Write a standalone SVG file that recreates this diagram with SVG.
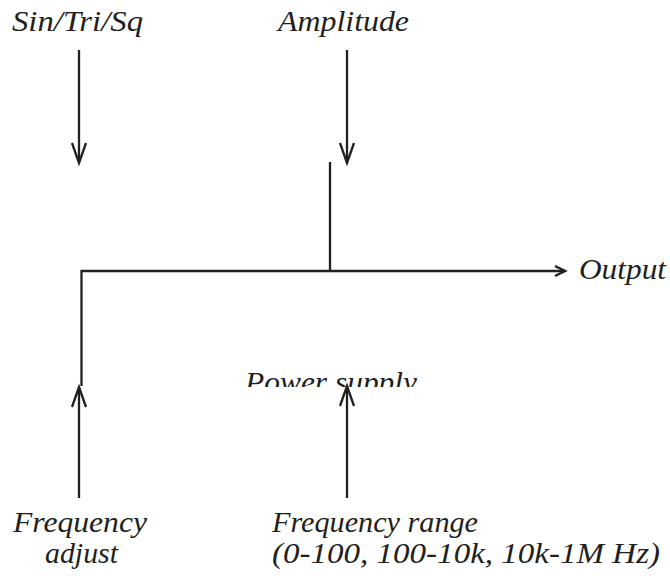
<svg xmlns="http://www.w3.org/2000/svg" width="670" height="581" viewBox="0 0 670 581">
  <style>
    .lbl { font-family: "Liberation Serif", "Times New Roman", serif; font-style: italic; font-weight: normal; font-size: 30px; fill: #231f20; }
    .wire { fill: none; stroke: #231f20; stroke-width: 2.3; }
  </style>
  <defs>
    <marker id="vee" markerUnits="userSpaceOnUse" markerWidth="24" markerHeight="20" refX="21" refY="8" orient="auto" overflow="visible">
      <path d="M1,1 L21,8 L1,15" fill="none" stroke="#231f20" stroke-width="2.3"/>
    </marker>
    <marker id="veeSmall" markerUnits="userSpaceOnUse" markerWidth="14" markerHeight="14" refX="11" refY="6" orient="auto" overflow="visible">
      <path d="M1,1 L11,6 L1,11" fill="none" stroke="#231f20" stroke-width="2.5"/>
    </marker>
    <clipPath id="psClip">
      <rect x="200" y="360" width="260" height="27"/>
    </clipPath>
  </defs>
  <rect width="670" height="581" fill="#ffffff"/>

  <g id="connectors">
    <line class="wire" x1="79" y1="50" x2="79" y2="163" marker-end="url(#vee)"/>
    <line class="wire" x1="347" y1="50" x2="347" y2="163" marker-end="url(#vee)"/>
    <line class="wire" x1="330" y1="162" x2="330" y2="271"/>
    <polyline class="wire" points="81.5,386 81.5,271 565,271" marker-end="url(#veeSmall)"/>
    <line class="wire" x1="79" y1="498" x2="79" y2="387" marker-end="url(#vee)"/>
    <line class="wire" x1="347" y1="498" x2="347" y2="386" marker-end="url(#vee)"/>
  </g>

  <g id="node-waveform">
    <text class="lbl" x="12" y="31" textLength="131" lengthAdjust="spacingAndGlyphs">Sin/Tri/Sq</text>
  </g>
  <g id="node-amplitude">
    <text class="lbl" x="278" y="31" textLength="131" lengthAdjust="spacingAndGlyphs">Amplitude</text>
  </g>
  <g id="node-output">
    <text class="lbl" x="579" y="279" textLength="87" lengthAdjust="spacingAndGlyphs">Output</text>
  </g>
  <g id="node-power-supply" clip-path="url(#psClip)">
    <text class="lbl" x="245" y="392" textLength="172" lengthAdjust="spacingAndGlyphs">Power supply</text>
  </g>
  <g id="node-frequency-adjust">
    <text class="lbl" x="13" y="532" textLength="134" lengthAdjust="spacingAndGlyphs">Frequency</text>
    <text class="lbl" x="45" y="563" textLength="73" lengthAdjust="spacingAndGlyphs">adjust</text>
  </g>
  <g id="node-frequency-range">
    <text class="lbl" x="272" y="532" textLength="206" lengthAdjust="spacingAndGlyphs">Frequency range</text>
    <text class="lbl" x="272" y="563" textLength="388" lengthAdjust="spacingAndGlyphs">(0-100, 100-10k, 10k-1M Hz)</text>
  </g>
</svg>
